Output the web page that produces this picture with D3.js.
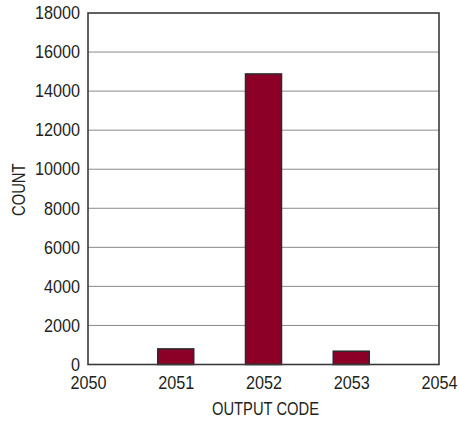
<!DOCTYPE html>
<html><head><meta charset="utf-8">
<script src="https://cdn.jsdelivr.net/npm/d3@7"></script>
<style>
body{margin:0;background:#fff;}
text{font-family:"Liberation Sans",Arial,Helvetica,sans-serif;fill:#231f20;}
</style></head><body>
<svg id="c" width="459" height="421"></svg>
<script>
const codes = [2051, 2052, 2053];
const counts = [800, 14880, 680];
const xTicks = [2050, 2051, 2052, 2053, 2054];
const yTicks = [0, 2000, 4000, 6000, 8000, 10000, 12000, 14000, 16000, 18000];

const svg = d3.select("#c");
const L = 88, R = 439, T = 13, B = 364.5;
const x = d3.scaleLinear().domain([2050, 2054]).range([L, R]);
const y = d3.scaleLinear().domain([0, 18000]).range([B, T]);
const FS = 18, SD = 0.9, SL = 0.82;

// gridlines
svg.append("g").selectAll("line").data(yTicks.filter(v => v > 0 && v < 18000)).join("line")
  .attr("x1", L).attr("x2", R).attr("y1", d => y(d)).attr("y2", d => y(d))
  .attr("stroke", "#8a8a8a").attr("stroke-width", 1);

// bars
const bw = 36;
svg.append("g").selectAll("rect").data(codes).join("rect")
  .attr("x", (d) => x(d) - bw / 2).attr("width", bw)
  .attr("y", (d, i) => y(counts[i])).attr("height", (d, i) => B - y(counts[i]))
  .attr("fill", "#8c0028").attr("stroke", "#2b2b2b").attr("stroke-width", 1.5);

// frame
svg.append("rect").attr("x", L).attr("y", T).attr("width", R - L).attr("height", B - T)
  .attr("fill", "none").attr("stroke", "#3a3a3a").attr("stroke-width", 1.6);

// y ticks
const ya = d3.axisLeft(y).tickValues(yTicks).tickSize(0).tickPadding(8).tickFormat(d3.format("d"));
const gy = svg.append("g").attr("transform", `translate(${L},0)`).call(ya);
gy.select(".domain").remove();
gy.selectAll("text").attr("font-size", FS).attr("fill", "#231f20")
  .style("font-family", '"Liberation Sans",Arial,sans-serif')
  .attr("x", -8 / SD).attr("transform", `scale(${SD},1)`);

// x ticks
const xa = d3.axisBottom(x).tickValues(xTicks).tickSize(0).tickPadding(12).tickFormat(d3.format("d"));
const gx = svg.append("g").attr("transform", `translate(0,${B})`).call(xa);
gx.select(".domain").remove();
gx.selectAll("text").attr("font-size", FS).attr("fill", "#231f20")
  .style("font-family", '"Liberation Sans",Arial,sans-serif')
  .attr("transform", `scale(${SD},1)`);

// axis titles
svg.append("text").attr("transform", `translate(${(L + R) / 2 + 2},415) scale(${SL},1)`)
  .attr("text-anchor", "middle").attr("font-size", FS).text("OUTPUT CODE");
svg.append("text").attr("transform", `translate(25,${(T + B) / 2 + 1}) rotate(-90) scale(${SL},1)`)
  .attr("text-anchor", "middle").attr("font-size", FS).text("COUNT");
</script></body></html>
